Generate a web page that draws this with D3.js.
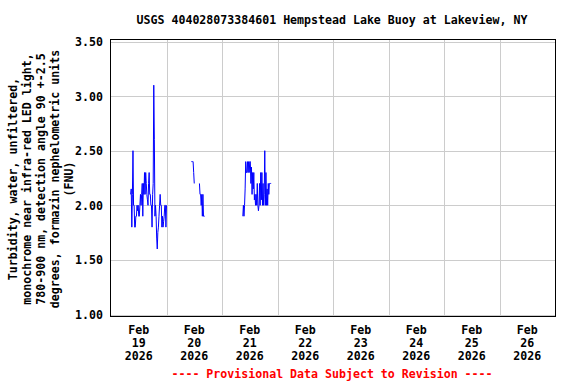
<!DOCTYPE html>
<html>
<head>
<meta charset="utf-8">
<script src="https://cdn.jsdelivr.net/npm/d3@7/dist/d3.min.js"></script>
<style>
  html, body { margin: 0; padding: 0; background: #fff; }
  svg { display: block; }
  text { font-family: "DejaVu Sans Mono", monospace; font-weight: bold; font-size: 11.6px; fill: #000; }
</style>
</head>
<body>
<svg id="chart" width="576" height="384"></svg>
<script>
// ---------------- data ----------------
const titleText = "USGS 404028073384601 Hempstead Lake Buoy at Lakeview, NY";
const yLabelLines = [
  "Turbidity, water, unfiltered,",
  "monochrome near infra-red LED light,",
  "780-900 nm, detection angle 90 +-2.5",
  "degrees, formazin nephelometric units",
  "(FNU)"
];
const footerText = "---- Provisional Data Subject to Revision ----";

const yTicks = [1.00, 1.50, 2.00, 2.50, 3.00, 3.50];
const xTickDates = ["2026-02-19", "2026-02-20", "2026-02-21", "2026-02-22",
                    "2026-02-23", "2026-02-24", "2026-02-25", "2026-02-26"];
const xTickMonths = ["Feb", "Feb", "Feb", "Feb", "Feb", "Feb", "Feb", "Feb"];
const xTickDays = ["19", "20", "21", "22", "23", "24", "25", "26"];
const xTickYears = ["2026", "2026", "2026", "2026", "2026", "2026", "2026", "2026"];
const xDomain = ["2026-02-19T00:00:00Z", "2026-02-27T00:00:00Z"];

const stepMinutes = 15;
const segmentStarts = ["2026-02-19T08:30:00Z", "2026-02-20T10:45:00Z", "2026-02-20T14:15:00Z", "2026-02-21T09:00:00Z"];
const segment1Values = [2.1,2.15,1.8,2.1,2.5,2.0,2.0,1.8,1.8,1.9,1.9,2.0,1.95,2.0,1.9,1.9,2.0,2.1,2.0,2.1,
  2.2,1.9,2.2,2.1,2.3,2.1,2.3,2.2,2.1,2.05,2.0,2.2,2.3,2.1,2.1,2.0,2.0,1.8,2.1,2.2,
  3.1,2.6,1.9,2.0,1.9,1.7,1.6,1.75,1.8,1.9,2.0,2.1,2.0,2.0,1.8,1.9,1.8,1.85,1.9,2.0,2.0,1.8,2.0];
const segment2Values = [2.4,2.4,2.4,2.4,2.3,2.2];
const segment3Values = [2.2,2.1,2.1,2.0,2.1,1.9,2.1,1.9,1.9,1.9];
const segment4Values = [1.9,2.0,1.9,2.0,2.15,2.4,2.3,2.3,2.4,2.3,2.4,2.3,2.4,2.4,2.2,2.35,2.1,2.3,2.15,2.3,
  2.05,2.1,2.0,2.1,2.0,2.2,2.0,1.95,2.0,2.2,2.0,2.3,2.05,2.3,2.0,2.2,2.0,2.1,2.5,2.0,
  2.3,2.0,2.15,2.0,2.2,2.1,2.2,2.2,2.2,2.2];
const segmentValues = [segment1Values, segment2Values, segment3Values, segment4Values];

// ---------------- layout ----------------
const svg = d3.select("#chart");
const frame = { left: 110.5, top: 39.5, right: 555, bottom: 316 };

const x = d3.scaleUtc()
  .domain(xDomain.map(d => new Date(d)))
  .range([111, 555]);
const y = d3.scaleLinear()
  .domain([1, 3.5])
  .range([314.5, 41.5]);

// grid
const grid = svg.append("g").attr("shape-rendering", "crispEdges");
grid.selectAll("line.h").data(yTicks).join("line")
  .attr("x1", frame.left).attr("x2", frame.right)
  .attr("y1", d => Math.round(y(d)) + 0.5).attr("y2", d => Math.round(y(d)) + 0.5)
  .attr("stroke", "#cccccc").attr("stroke-width", 1);
grid.selectAll("line.v").data(xTickDates.slice(1)).join("line")
  .attr("x1", d => Math.round(x(new Date(d + "T00:00:00Z"))) + 0.5)
  .attr("x2", d => Math.round(x(new Date(d + "T00:00:00Z"))) + 0.5)
  .attr("y1", frame.top).attr("y2", frame.bottom)
  .attr("stroke", "#cccccc").attr("stroke-width", 1);

// data lines
const line = d3.line()
  .x(d => x(d.t))
  .y(d => y(d.v));
segmentValues.forEach((vals, k) => {
  const t0 = new Date(segmentStarts[k]).getTime();
  const pts = vals.map((v, i) => ({ t: new Date(t0 + i * stepMinutes * 60000), v }));
  svg.append("path")
    .datum(pts)
    .attr("d", line)
    .attr("fill", "none")
    .attr("stroke", "#0000ff")
    .attr("stroke-width", 1);
});

// frame
svg.append("rect")
  .attr("x", frame.left).attr("y", frame.top)
  .attr("width", frame.right - frame.left).attr("height", frame.bottom - frame.top)
  .attr("fill", "none").attr("stroke", "#000").attr("stroke-width", 1)
  .attr("shape-rendering", "crispEdges");

// y axis labels
const yAxis = d3.axisLeft(y).tickValues(yTicks).tickSize(0).tickPadding(7)
  .tickFormat(d3.format(".2f"));
const gy = svg.append("g").attr("transform", "translate(110,0)").call(yAxis);
gy.select(".domain").remove();
gy.selectAll("text")
  .attr("font-family", null).attr("font-size", null)
  .attr("dy", null).attr("dominant-baseline", "central");

// x axis labels (centered at noon of each day)
const gx = svg.append("g");
xTickDates.forEach((d, i) => {
  const cx = x(new Date(d + "T12:00:00Z"));
  const t = gx.append("text").attr("text-anchor", "middle");
  [xTickMonths[i], xTickDays[i], xTickYears[i]].forEach((s, j) => {
    t.append("tspan").attr("x", cx).attr("y", 330 + j * 13)
      .attr("dominant-baseline", "central").text(s);
  });
});

// title
svg.append("text").attr("x", 332).attr("y", 20)
  .attr("text-anchor", "middle").attr("dominant-baseline", "central")
  .text(titleText);

// y label
yLabelLines.forEach((s, i) => {
  svg.append("text")
    .attr("transform", `translate(${12.7 + i * 14},179) rotate(-90)`)
    .attr("text-anchor", "middle").attr("dominant-baseline", "central")
    .text(s);
});

// footer
svg.append("text").attr("x", 332).attr("y", 374)
  .attr("text-anchor", "middle").attr("dominant-baseline", "central")
  .style("fill", "#ff0000")
  .text(footerText);
</script>
</body>
</html>
